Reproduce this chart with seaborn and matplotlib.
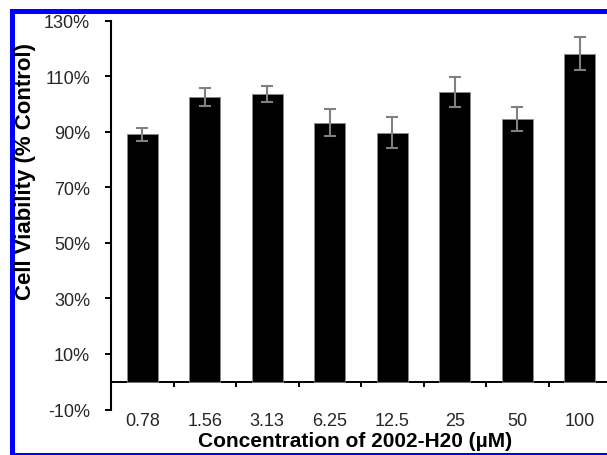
import matplotlib
matplotlib.use("Agg")
import matplotlib.pyplot as plt
import seaborn as sns
import pandas as pd
from matplotlib.patches import Rectangle

concentrations = ["0.78", "1.56", "3.13", "6.25", "12.5", "25", "50", "100"]
viability = [89.0, 102.5, 103.5, 93.2, 89.6, 104.2, 94.6, 118.1]
errors = [2.4, 3.2, 2.9, 4.9, 5.6, 5.3, 4.2, 5.9]
y_ticks = [-10, 10, 30, 50, 70, 90, 110, 130]
y_tick_labels = [f"{t}%" for t in y_ticks]
boundaries = [0.5, 1.5, 2.5, 3.5, 4.5, 5.5, 6.5, 7.5]

sns.set_theme(style="white")
plt.rcParams['font.family'] = ['Liberation Sans', 'DejaVu Sans']

W, H = 607, 456
fig = plt.figure(figsize=(W / 100, H / 100), dpi=100)
fig.patch.set_facecolor("white")
ax = fig.add_axes([111 / W, (H - 410.5) / H, (611 - 111) / W, (410.5 - 21.5) / H])
ax.set_facecolor("white")

df = pd.DataFrame({"conc": concentrations, "viab": viability})
sns.barplot(data=df, x="conc", y="viab", order=concentrations, color="black",
            saturation=1, width=0.5, errorbar=None, edgecolor="#8a8a8a",
            linewidth=0.6, ax=ax)
ax.errorbar(range(len(concentrations)), viability, yerr=errors, fmt="none",
            ecolor="#808080", elinewidth=1.5, capsize=4.3, capthick=1.5, zorder=3)

ax.set_xlim(-0.5, 7.5)
ax.set_ylim(-10, 130)
ax.set_xlabel("")
ax.set_ylabel("")

for s in ["top", "right", "bottom"]:
    ax.spines[s].set_visible(False)
ax.spines["left"].set_color("black")
ax.spines["left"].set_linewidth(1.5)

ax.set_yticks(y_ticks)
ax.set_yticklabels(y_tick_labels)
ax.tick_params(axis="y", direction="out", length=4, width=1.4, color="black",
               pad=11, labelsize=13, labelcolor="#262626", left=True)
ax.tick_params(axis="x", length=0, pad=1.5, labelsize=13, labelcolor="#262626")

# zero line with category-boundary ticks
sec = ax.secondary_xaxis(10 / 140)
sec.set_xticks(boundaries)
sec.tick_params(axis="x", direction="out", length=3.5, width=1.4, color="black",
                labelbottom=False, labeltop=False)
for s in sec.spines.values():
    s.set_color("black")
    s.set_linewidth(1.4)

fig.text(26 / W, 1 - 171 / H, "Cell Viability (% Control)", rotation=90,
         ha="center", va="center", fontsize=16, fontweight="bold", color="black")
fig.text(355.5 / W, 1 - 442 / H, "Concentration of 2002-H20 (µM)",
         ha="center", va="center", fontsize=15, fontweight="bold", color="black")

fig.add_artist(Rectangle((12.5 / W, (H - 455.5) / H), (700 - 12.5) / W,
                         (455.5 - 11.5) / H, fill=False, edgecolor="#0000ff",
                         linewidth=3.6, transform=fig.transFigure, clip_on=False))

fig.savefig("out.png", dpi=100, facecolor="white")
